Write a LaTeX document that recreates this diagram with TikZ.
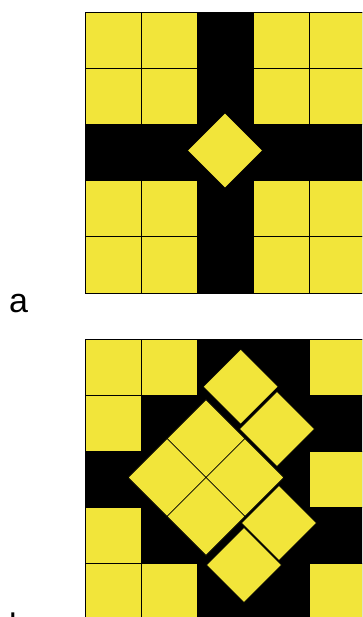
\documentclass[tikz,border=0pt]{standalone}
\usepackage{fontspec}
\setsansfont{Liberation Sans}
\definecolor{tileyellow}{RGB}{242,229,58}

\begin{document}
\begin{tikzpicture}[x=1pt, y=-1pt,
      panel/.style={fill=black},
      cell/.style={fill=tileyellow, draw=black, line width=0.7pt},
      gem/.style={rectangle, fill=tileyellow, draw=black, line width=0.6pt,
                  rotate=45, minimum size=55pt, inner sep=0pt},
      tag/.style={font=\sffamily\fontsize{34}{40}\selectfont,
                  anchor=base west, inner sep=0pt}
    ]
    \useasboundingbox (0,0) rectangle (362,617);
    \clip (0,0) rectangle (362,617);

    % panel a: four 2x2 blocks and one tile in the middle
    \fill[panel] (85,12) rectangle (366,293);
    \foreach \c in {0,1,3,4}
      \foreach \r in {0,1,3,4}
        \draw[cell] ({85+56.2*\c},{12+56.2*\r}) rectangle +(56.2,56.2);
    \draw[line width=0.8pt] (85,12) rectangle (366,293);
    \node[gem, minimum size=53pt] (hub) at (225,150.5) {};

    % panel b: tiles moved into the middle
    \fill[panel] (85,339) rectangle (366,620);
    \foreach \c/\r in {0/0,1/0,0/1,0/3,0/4,1/4,4/0,4/2,4/4}
      \draw[cell] ({85+56.2*\c},{339+56.2*\r}) rectangle +(56.2,56.2);
    \draw[line width=0.8pt] (85,339) rectangle (366,620);

    \node[gem] (north) at (206,438.6) {};
    \node[gem] (west)  at (167.1,477.5) {};
    \node[gem] (east)  at (244.9,477.5) {};
    \node[gem] (south) at (206,516.4) {};

    \node[gem, minimum size=53pt] (crest)  at (240.7,386.7) {};
    \node[gem, minimum size=53pt] (upper)  at (277,429) {};
    \node[gem, minimum size=53pt] (lower)  at (279,523) {};
    \node[gem, minimum size=53pt] (keel)   at (244,565) {};

    \node[tag] (lbla) at (9,312) {a};
    \node[tag] (lblb) at (9,637) {b};
  \end{tikzpicture}
\end{document}
